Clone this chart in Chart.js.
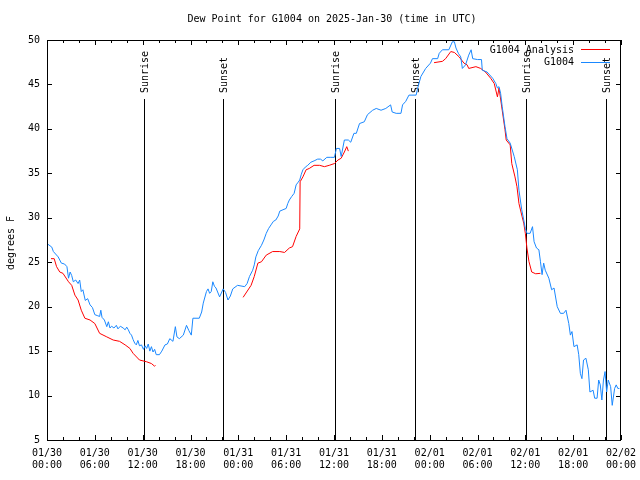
<!doctype html>
<html>
<head>
    <title>Dew Point G1004</title>
    <script src="https://cdn.jsdelivr.net/npm/chart.js"></script>
    <style>
        body { margin: 0; background: #fff; }
        canvas { display: block; }
    </style>
</head>
<body>
    <canvas id="dewChart" width="640" height="480"></canvas>

    <script>
        // hours since 2025-01-30 00:00 UTC
        const obsHours = [0, 0.6, 0.8, 1.4, 1.8, 2.2, 2.5, 2.7, 2.9, 3.1, 3.3, 3.6, 3.9, 4.1, 4.3, 4.5, 4.8, 5.1, 5.4, 5.7,
            6.0, 6.3, 6.6, 6.75, 6.9, 7.2, 7.5, 7.7, 7.9, 8.1, 8.4, 8.7, 8.9, 9.2, 9.55, 9.8, 10.0, 10.2, 10.4, 10.6,
            10.8, 11.0, 11.2, 11.4, 11.6, 11.85, 12.1, 12.3, 12.5, 12.7, 12.9, 13.1, 13.3, 13.5, 13.7, 14.1, 14.4, 14.8, 15.1, 15.4,
            15.8, 16.1, 16.3, 16.6, 17.1, 17.5, 17.8, 18.1, 18.3, 19.1, 19.4, 19.6, 20.0, 20.2, 20.4, 20.6, 20.8, 21.0, 21.2, 21.65,
            22.1, 22.4, 22.7, 23.0, 23.3, 23.9, 24.8, 25.1, 25.4, 25.8, 26.0, 26.2, 26.5, 26.9, 27.2, 27.5, 27.8, 28.1, 28.4, 28.7,
            29.0, 29.2, 29.6, 30.0, 30.2, 30.4, 30.7, 31.0, 31.25, 31.5, 31.7, 31.9, 32.1, 32.4, 32.7, 33.1, 33.5, 33.95, 34.3, 34.6,
            35.1, 35.6, 36.05, 36.3, 36.7, 36.9, 37.3, 37.8, 38.1, 38.5, 38.8, 39.2, 39.8, 40.2, 40.85, 41.3, 41.9, 42.5, 43.1, 43.3,
            43.8, 44.4, 44.6, 45.0, 45.4, 46.3, 46.5, 46.9, 47.5, 48.1, 48.35, 49.0, 49.2, 49.6, 50.4, 50.85, 51.1, 51.3, 51.6, 51.9,
            52.1, 52.5, 52.9, 53.2, 53.4, 54.0, 54.5, 54.6, 55.2, 55.9, 56.3, 56.5, 56.7, 56.9, 57.1, 57.45, 57.7, 58.1, 58.6, 59.0,
            59.2, 59.55, 59.8, 60.0, 60.2, 60.6, 60.9, 61.1, 61.4, 61.7, 61.9, 62.1, 62.3, 62.5, 62.95, 63.3, 63.6, 64.0, 64.4, 64.8,
            65.1, 65.45, 65.65, 65.85, 66.1, 66.5, 66.7, 66.9, 67.1, 67.3, 67.6, 67.9, 68.1, 68.5, 68.7, 69.0, 69.2, 69.4, 69.6, 69.8,
            70.0, 70.2, 70.4, 70.7, 70.9, 71.2, 71.4, 71.6, 71.8];
        const obsDew = [27.1, 26.7, 26.2, 25.6, 24.9, 24.8, 24.5, 23.2, 23.9, 23.5, 22.8, 23.0, 22.6, 23.0, 21.7, 21.9, 20.7, 20.9, 20.2, 19.9,
            19.1, 19.0, 18.9, 19.6, 18.8, 18.5, 17.75, 18.3, 17.6, 17.8, 17.6, 17.9, 17.5, 17.8, 17.6, 17.4, 17.7, 17.4, 17.0, 16.8,
            16.3, 15.9, 15.7, 16.2, 15.6, 15.7, 15.2, 15.6, 15.3, 15.8, 15.0, 15.5, 14.9, 15.2, 14.6, 14.6, 15.0, 15.7, 15.8, 16.4,
            16.1, 17.75, 16.6, 16.4, 16.8, 17.9, 17.3, 16.8, 18.7, 18.7, 19.4, 20.4, 21.7, 22.0, 21.5, 21.7, 22.8, 22.3, 22.1, 21.1,
            22.0, 21.6, 20.75, 21.2, 22.0, 22.4, 22.25, 22.6, 23.4, 24.1, 24.7, 25.6, 26.3, 26.9, 27.5, 28.25, 28.8, 29.2, 29.6, 29.75,
            30.2, 30.75, 30.9, 31.05, 31.6, 32.0, 32.4, 32.75, 33.7, 34.0, 34.25, 34.9, 35.4, 35.7, 35.9, 36.25, 36.4, 36.6, 36.6, 36.4,
            36.8, 36.8, 36.8, 37.8, 37.8, 36.9, 38.75, 38.75, 38.5, 39.5, 39.5, 40.6, 40.8, 41.6, 42.1, 42.3, 42.1, 42.3, 42.7, 41.9,
            41.75, 41.75, 42.7, 43.1, 43.8, 43.8, 44.6, 45.9, 46.8, 47.4, 47.9, 47.9, 48.5, 48.9, 48.9, 49.8, 49.8, 49.1, 48.5, 48.1,
            46.8, 47.2, 48.3, 48.9, 47.9, 47.8, 47.8, 46.6, 46.4, 45.7, 45.1, 44.6, 44.75, 44.0, 42.5, 40.25, 38.9, 38.4, 36.9, 35.4,
            33.1, 30.9, 29.75, 28.8, 28.25, 28.25, 29.0, 27.3, 26.6, 26.4, 25.05, 23.6, 24.9, 24.1, 23.2, 21.9, 22.1, 20.0, 19.25, 19.25,
            19.6, 18.1, 16.8, 17.2, 15.5, 15.7, 14.6, 12.5, 11.9, 14.0, 14.2, 12.9, 10.4, 10.6, 9.7, 9.7, 11.75, 11.2, 9.5, 11.75,
            12.7, 10.4, 11.75, 11.0, 8.9, 10.8, 11.2, 10.8, 10.8];

        // analysis has gaps (null)
        const anaHours = [0.5, 0.9, 1.2, 1.6, 2.0, 2.7, 3.1, 3.5, 3.9, 4.3, 4.75, 5.4, 6.0, 6.6, 7.5, 8.3, 9.1, 9.8, 10.4, 10.8,
            11.6, 12.5, 13.1, 13.5, 13.6, 19,
            24.6, 25.6, 26.0, 26.45, 26.9, 27.5, 28.3, 29.2, 29.8, 30.4, 30.8, 31.25, 31.7, 31.75, 32.1, 32.5, 32.9, 33.5, 34.2, 34.8,
            35.4, 36.05, 36.5, 36.9, 37.3, 37.6, 37.8, 43,
            48.55, 49.6, 50.0, 50.65, 51.1, 51.7, 52.3, 52.7, 52.9, 53.8, 54.4, 55.0, 55.65, 56.1, 56.5, 56.7, 57.1, 57.45, 57.6, 58.1,
            58.3, 58.7, 58.95, 59.2, 59.6, 59.8, 60.0, 60.2, 60.45, 60.8, 61.3, 61.9];
        const anaDew = [25.4, 25.4, 24.5, 23.9, 23.75, 22.8, 22.4, 21.3, 20.75, 19.6, 18.7, 18.5, 18.1, 17.0, 16.6, 16.25, 16.1, 15.7, 15.3, 14.75,
            14.0, 13.8, 13.6, 13.3, 13.4, null,
            21.05, 22.4, 23.4, 24.9, 25.05, 25.8, 26.2, 26.2, 26.1, 26.6, 26.75, 27.9, 28.75, 34.05, 34.6, 35.4, 35.55, 35.9, 35.9, 35.75,
            35.9, 36.1, 36.5, 36.7, 37.4, 38.0, 37.5, null,
            47.45, 47.6, 47.9, 48.7, 48.6, 48.1, 47.4, 47.2, 46.8, 47.0, 46.8, 46.4, 45.7, 45.1, 43.6, 44.6, 42.1, 39.9, 38.75, 38.2,
            36.1, 34.6, 33.5, 31.6, 30.1, 29.4, 28.25, 26.6, 25.1, 23.9, 23.7, 23.75];

        const sunHours = [12.19, 22.08, 36.1, 46.1, 60.1, 70.15];
        const sunLabels = ['Sunrise', 'Sunset', 'Sunrise', 'Sunset', 'Sunrise', 'Sunset'];

        const tickDates = ['01/30', '01/30', '01/30', '01/30', '01/31', '01/31', '01/31', '01/31', '02/01', '02/01', '02/01', '02/01', '02/02'];
        const tickTimes = ['00:00', '06:00', '12:00', '18:00', '00:00', '06:00', '12:00', '18:00', '00:00', '06:00', '12:00', '18:00', '00:00'];

        const FONT = '10px "DejaVu Sans Mono", monospace';

        const toPoints = (xs, ys) => xs.map((h, i) => ({ x: h, y: ys[i] }));

        const gnuplotFrame = {
            id: 'gnuplotFrame',
            beforeDatasetsDraw(chart) {
                const { ctx, chartArea: a, scales: { x } } = chart;
                ctx.save();
                ctx.strokeStyle = '#000';
                ctx.lineWidth = 1;
                ctx.fillStyle = '#000';
                ctx.font = FONT;
                ctx.textAlign = 'left';
                ctx.textBaseline = 'middle';
                sunHours.forEach((h, i) => {
                    const px = Math.round(x.getPixelForValue(h)) + 0.5;
                    ctx.beginPath();
                    ctx.moveTo(px, a.top + 59);
                    ctx.lineTo(px, a.bottom);
                    ctx.stroke();
                    ctx.save();
                    ctx.translate(px + 0.5, a.top + 53);
                    ctx.rotate(-Math.PI / 2);
                    ctx.fillText(sunLabels[i], 0, 0);
                    ctx.restore();
                });
                ctx.restore();
            },
            afterDraw(chart) {
                const { ctx, chartArea: a, scales: { x, y } } = chart;
                ctx.save();
                ctx.strokeStyle = '#000';
                ctx.lineWidth = 1;
                ctx.strokeRect(a.left + 0.5, a.top + 0.5, a.right - a.left - 1, a.bottom - a.top);

                // tick marks pointing inward
                ctx.beginPath();
                for (let h = 0; h <= 72; h += 2) {
                    const px = Math.round(x.getPixelForValue(h)) + 0.5;
                    const len = h % 6 === 0 ? 5 : 3;
                    ctx.moveTo(px, a.bottom);
                    ctx.lineTo(px, a.bottom - len);
                    ctx.moveTo(px, a.top);
                    ctx.lineTo(px, a.top + len);
                }
                for (let v = 5; v <= 50; v += 5) {
                    const py = Math.round(y.getPixelForValue(v)) + 0.5;
                    ctx.moveTo(a.left, py);
                    ctx.lineTo(a.left + 5, py);
                    ctx.moveTo(a.right, py);
                    ctx.lineTo(a.right - 5, py);
                }
                ctx.stroke();

                ctx.fillStyle = '#000';
                ctx.font = FONT;
                ctx.textBaseline = 'middle';

                // title
                ctx.textAlign = 'center';
                ctx.fillText('Dew Point for G1004 on 2025-Jan-30 (time in UTC)', 332, 19);

                // y axis title
                ctx.save();
                ctx.translate(11, 243);
                ctx.rotate(-Math.PI / 2);
                ctx.fillText('degrees F', 0, 0);
                ctx.restore();

                // key
                ctx.textAlign = 'right';
                chart.data.datasets.forEach((ds, i) => {
                    const ly = 50 + i * 12.5;
                    ctx.fillStyle = '#000';
                    ctx.fillText(ds.label, 574, ly);
                    ctx.strokeStyle = ds.borderColor;
                    ctx.beginPath();
                    ctx.moveTo(581, Math.round(ly) - 0.5);
                    ctx.lineTo(610, Math.round(ly) - 0.5);
                    ctx.stroke();
                });
                ctx.restore();
            }
        };

        new Chart(document.getElementById('dewChart'), {
            type: 'line',
            data: {
                datasets: [
                    {
                        label: 'G1004 Analysis',
                        data: toPoints(anaHours, anaDew),
                        borderColor: '#ff0000',
                        borderWidth: 1,
                        pointRadius: 0,
                        tension: 0,
                        spanGaps: false,
                        order: 2
                    },
                    {
                        label: 'G1004',
                        data: toPoints(obsHours, obsDew),
                        borderColor: '#1a88ff',
                        borderWidth: 1,
                        pointRadius: 0,
                        tension: 0,
                        order: 1
                    }
                ]
            },
            options: {
                responsive: false,
                animation: false,
                layout: { padding: { top: 40, right: 19, left: 0, bottom: 0 } },
                plugins: {
                    legend: { display: false },
                    tooltip: { enabled: false },
                    title: { display: false }
                },
                scales: {
                    x: {
                        type: 'linear',
                        min: 0,
                        max: 72,
                        grid: { display: false, drawTicks: false },
                        border: { display: false },
                        afterFit: s => { s.height = 40; s.paddingLeft = 0; s.paddingRight = 0; },
                        ticks: {
                            stepSize: 6,
                            padding: 7,
                            autoSkip: false,
                            maxRotation: 0,
                            color: '#000',
                            font: { family: '"DejaVu Sans Mono", monospace', size: 10 },
                            callback: v => [tickDates[v / 6], tickTimes[v / 6]]
                        }
                    },
                    y: {
                        min: 5,
                        max: 50,
                        grid: { display: false, drawTicks: false },
                        border: { display: false },
                        afterFit: s => { s.width = 47; s.paddingTop = 0; s.paddingBottom = 0; },
                        ticks: {
                            stepSize: 5,
                            padding: 7,
                            color: '#000',
                            font: { family: '"DejaVu Sans Mono", monospace', size: 10 }
                        }
                    }
                }
            },
            plugins: [gnuplotFrame]
        });
    </script>
</body>
</html>
